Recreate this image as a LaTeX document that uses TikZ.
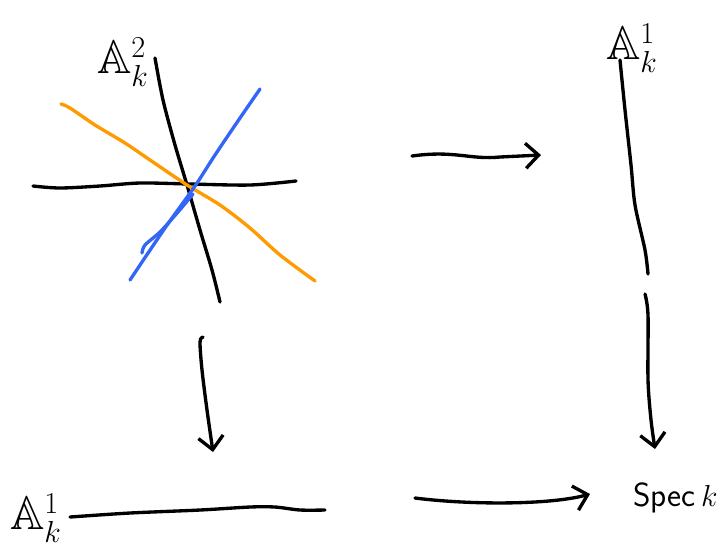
\documentclass[tikz,border=0pt]{standalone}
\usepackage{amssymb}
\usetikzlibrary{arrows.meta}
\definecolor{penorange}{HTML}{FF9A00}
\definecolor{penblue}{HTML}{3366F5}
\begin{document}
\begin{tikzpicture}[x=0.02cm,y=-0.02cm,
  pen/.style={line width=1.9pt,line cap=round,line join=round},
  arr/.style={pen,-{Straight Barb[length=2.6mm,width=5mm,line width=1.9pt]}},
  lab/.style={inner sep=0pt,font=\fontsize{27}{30}\selectfont}]
\useasboundingbox (0,0) rectangle (722,556);
% labels
\node[lab] (A2) at (123,62) {$\mathbb{A}^{2}_{k}$};
\node[lab] (A1top) at (632,48) {$\mathbb{A}^{1}_{k}$};
\node[lab] (A1bot) at (36,518) {$\mathbb{A}^{1}_{k}$};
\node[lab,anchor=east,font=\fontsize{19}{22}\selectfont\sffamily] (spec) at (718,498) {Spec\,$k$};
% plane picture
\draw[pen] plot[smooth] coordinates {(33,186) (60,188) (100,186) (140,183) (190,184) (250,185) (296,181)};
\draw[pen] plot[smooth] coordinates {(155,58) (163,100) (175,145) (187,185) (200,230) (212,270) (220,302)};
\draw[pen,penorange] plot[smooth] coordinates {(61,104) (70,108) (95,125) (125,143) (150,160) (187,185) (220,205) (250,228) (280,255) (315,281)};
\draw[pen,penblue] plot[smooth] coordinates {(260,89) (240,118) (215,155) (195,186) (165,228) (130,280)};
\draw[pen,penblue] plot[smooth] coordinates {(142,253) (145,245) (160,232) (178,212) (193,194)};
% arrows
\coordinate (t1) at (412,156);
\coordinate (t2) at (541,155);
\draw[arr] (t1) .. controls (455,150) and (470,160) .. (500,157) -- (t2);
\coordinate (d1) at (200,337);
\coordinate (d2) at (213,452);
\draw[arr] plot[smooth] coordinates {(203,337) (200,342) (202,370) (207,410) (213,452)};
\coordinate (b1) at (415,498);
\coordinate (b2) at (590,494);
\draw[arr] (b1) .. controls (470,505) and (550,505) .. (b2);
% bottom A1 line
\draw[pen] plot[smooth] coordinates {(70,517) (130,513) (200,510) (250,507) (275,507) (300,510) (325,510)};
% right vertical line
\draw[pen] plot[smooth] coordinates {(620,60) (625,110) (631,165) (635,205) (645,250) (648,274)};
\draw[arr] plot[smooth] coordinates {(645,294) (648,315) (648,380) (651,420) (655,449)};
\end{tikzpicture}
\end{document}
